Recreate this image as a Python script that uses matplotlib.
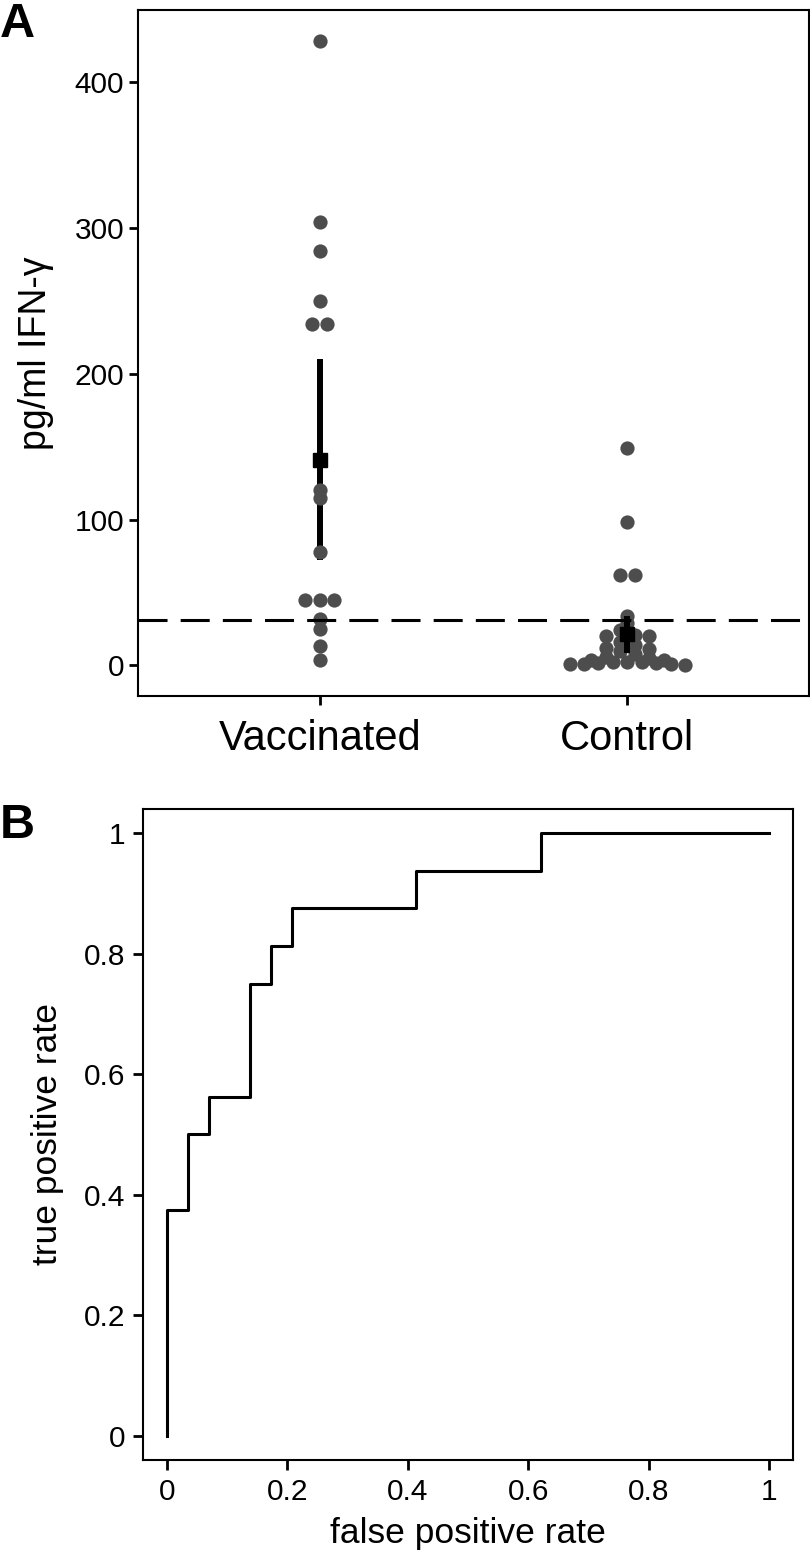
import numpy as np
from matplotlib import pyplot as plt

# panel A data (pg/ml IFN-gamma)
groups = ["Vaccinated", "Control"]
vaccinated = np.array([428, 304, 284, 250, 234, 234, 120, 115, 78,
                       45, 45, 45, 32, 25, 13, 4])
control = np.array([149, 98, 62, 62, 34, 29, 24, 21, 20, 20, 16, 14,
                    12, 11, 10, 8, 6, 5, 3.5, 3.5, 2.5, 2, 2, 1.5, 1.5,
                    1, 1, 1, 0.5])
cutoff = 31
t_crit = [2.131, 2.048]  # t(0.975) for n-1 = 15, 28

# panel B data (ROC curve)
fpr = [0, 0, 1/29, 1/29, 2/29, 2/29, 4/29, 4/29, 5/29, 5/29, 6/29, 6/29,
       12/29, 12/29, 18/29, 18/29, 1]
tpr = [0, 6/16, 6/16, 8/16, 8/16, 9/16, 9/16, 12/16, 12/16, 13/16, 13/16,
       14/16, 14/16, 15/16, 15/16, 1, 1]

ytick_a = [0, 100, 200, 300, 400]
ticks_b = [0, 0.2, 0.4, 0.6, 0.8, 1]
tick_labels_b = ["0", "0.2", "0.4", "0.6", "0.8", "1"]


def center_swarm(values, width, origin):
    # bin values, spread each bin symmetrically around the centre
    bins = np.floor((values - origin) / width)
    offsets = np.zeros(len(values))
    for b in np.unique(bins):
        idx = np.where(bins == b)[0]
        idx = idx[np.argsort(-values[idx], kind="stable")]
        n = len(idx)
        slots = sorted(np.arange(n) - (n - 1) / 2, key=lambda s: (abs(s), s))
        offsets[idx] = slots
    return offsets


def main():
    plt.rcParams["font.family"] = ["Liberation Sans", "DejaVu Sans"]
    fig = plt.figure(figsize=(8.1, 15.62), dpi=100)

    # ---- panel A
    ax = fig.add_axes([0.1704, 0.5544, 0.8284, 0.4392])
    dot_step = 0.047
    for i, vals in enumerate([vaccinated, control]):
        x = i + 1 + dot_step * center_swarm(vals, 7.5, -4.5)
        ax.scatter(x, vals, s=105, color="#4d4d4d", linewidths=0, zorder=3)
        m = vals.mean()
        half = t_crit[i] * vals.std(ddof=1) / np.sqrt(len(vals))
        z = 2 if i == 0 else 4
        ax.plot([i + 1, i + 1], [m - half, m + half], color="black", lw=4.3,
                solid_capstyle="butt", zorder=z)
        ax.plot([i + 1], [m], marker="s", ms=9.5, color="black", zorder=z)
    ax.axhline(cutoff, color="black", lw=2.2, dashes=(9.5, 4.3), zorder=5)

    ax.set_xlim(0.41, 2.59)
    ax.set_ylim(-21, 449.4)
    ax.set_xticks([1, 2])
    ax.set_xticklabels(groups, fontsize=30)
    ax.set_yticks(ytick_a)
    ax.set_yticklabels([str(t) for t in ytick_a], fontsize=21.5)
    ax.set_ylabel("pg/ml IFN-γ", fontsize=27, labelpad=15)
    ax.tick_params(width=2, length=6.5, color="black", pad=3.5)
    ax.tick_params(axis="x", pad=10)
    for sp in ax.spines.values():
        sp.set_linewidth(1.5)
    fig.text(0.0, 0.999, "A", fontsize=35, fontweight="bold",
             va="top", ha="left")

    # ---- panel B
    bx = fig.add_axes([0.1765, 0.0653, 0.8025, 0.4168])
    bx.plot(fpr, tpr, color="black", lw=2.2)
    bx.set_xlim(-0.04, 1.04)
    bx.set_ylim(-0.04, 1.04)
    bx.set_xticks(ticks_b)
    bx.set_xticklabels(tick_labels_b, fontsize=21.5)
    bx.set_yticks(ticks_b)
    bx.set_yticklabels(tick_labels_b, fontsize=21.5)
    bx.set_xlabel("false positive rate", fontsize=25.5, labelpad=8)
    bx.set_ylabel("true positive rate", fontsize=25.5, labelpad=14)
    bx.tick_params(width=2, length=7, color="black", pad=6)
    for sp in bx.spines.values():
        sp.set_linewidth(1.5)
    fig.text(0.0, 0.486, "B", fontsize=35, fontweight="bold",
             va="top", ha="left")

    fig.savefig("out.png", dpi=100)


if __name__ == "__main__":
    main()
